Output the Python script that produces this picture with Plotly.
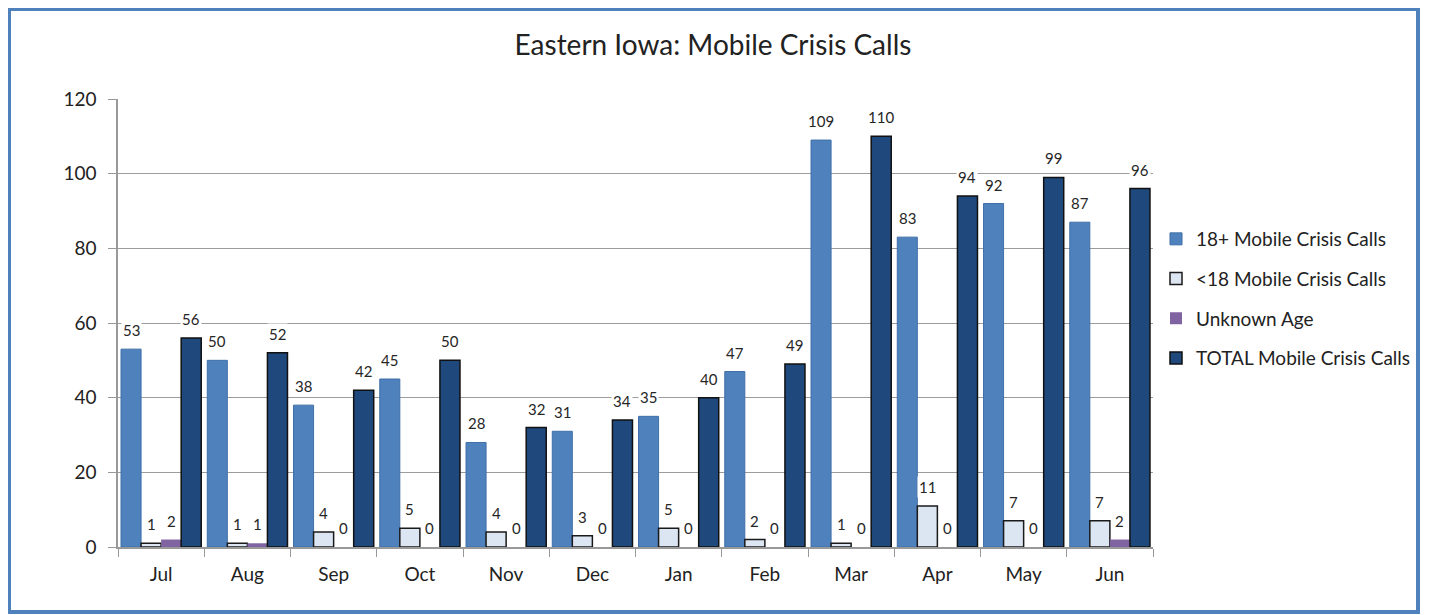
import plotly.graph_objects as go

months = ["Jul", "Aug", "Sep", "Oct", "Nov", "Dec", "Jan", "Feb", "Mar", "Apr", "May", "Jun"]
adult = [53, 50, 38, 45, 28, 31, 35, 47, 109, 83, 92, 87]
youth = [1, 1, 4, 5, 4, 3, 5, 2, 1, 11, 7, 7]
unknown = [2, 1, 0, 0, 0, 0, 0, 0, 0, 0, 0, 2]
total = [56, 52, 42, 50, 32, 34, 40, 49, 110, 94, 99, 96]

series = [
    ("18+ Mobile Crisis Calls", adult, "#4F81BD", "#3F6FA8", 1),
    ("<18 Mobile Crisis Calls", youth, "#DCE6F2", "#1a1a1a", 1.5),
    ("Unknown Age", unknown, "#8064A2", "#8064A2", 0),
    ("TOTAL Mobile Crisis Calls", total, "#1F497D", "#111111", 1.5),
]

FONT = "Lato, 'Open Sans', sans-serif"
# page has an 8px body margin, so figure is a bit smaller than the window
W, H = 1422, 607
ML, MT = 110, 91
plot_w, plot_h = 1035, 448
MR = W - ML - plot_w
MB = H - MT - plot_h
bargap = 0.07
cat_w = plot_w / len(months)
bar_w = cat_w * (1 - bargap) / len(series)

fig = go.Figure()
for i, (name, vals, fill, line, lw) in enumerate(series):
    fig.add_trace(go.Bar(
        x=months, y=vals, name=name,
        marker=dict(color=fill, line=dict(color=line, width=lw)),
        legendgroup=name,
    ))
    offset = (i - (len(series) - 1) / 2) * bar_w
    for m, v in zip(months, vals):
        fig.add_annotation(
            x=m, y=v, xref="x", yref="y", text=str(v), showarrow=False,
            xshift=offset, yshift=8, yanchor="bottom",
            bgcolor="white", borderpad=1,
            font=dict(family=FONT, size=15, color="#262626"),
        )

# outer frame
bottom = MT + plot_h
fig.add_shape(type="rect", xref="paper", yref="paper",
              x0=(1 - ML) / plot_w, x1=(1410 - ML) / plot_w,
              y0=(bottom - 604) / plot_h, y1=(bottom - 1) / plot_h,
              line=dict(color="#4F81BD", width=4), layer="below")

fig.update_layout(
    width=W, height=H,
    margin=dict(l=ML, r=MR, t=MT, b=MB),
    paper_bgcolor="white", plot_bgcolor="white",
    barmode="group", bargap=bargap, bargroupgap=0,
    title=dict(text="Eastern Iowa: Mobile Crisis Calls", x=705 / W, xref="container",
               y=1 - 37 / H, yref="container", xanchor="center", yanchor="middle",
               font=dict(family=FONT, size=28, color="#222222")),
    legend=dict(x=(1148 - ML) / plot_w, xanchor="left", y=(bottom - 212) / plot_h, yanchor="top",
                font=dict(family=FONT, size=19, color="#222222"),
                tracegroupgap=12, traceorder="grouped", bgcolor="rgba(0,0,0,0)"),
    font=dict(family=FONT),
    showlegend=True,
)
fig.update_xaxes(
    type="category", tickson="boundaries", ticks="outside", ticklen=8,
    tickcolor="#999999", showline=True, linecolor="#999999", linewidth=1.5,
    showgrid=False, tickfont=dict(family=FONT, size=19, color="#222222"),
    ticklabelstandoff=9,
)
fig.update_yaxes(
    range=[0, 120], dtick=20, ticks="outside", ticklen=8, tickcolor="#999999",
    showline=True, linecolor="#999999", linewidth=1.5,
    showgrid=True, gridcolor="#9c9c9c", gridwidth=1.2, zeroline=False,
    tickfont=dict(family=FONT, size=19, color="#222222"), ticklabelstandoff=8,
)

fig.write_html("out.html")
